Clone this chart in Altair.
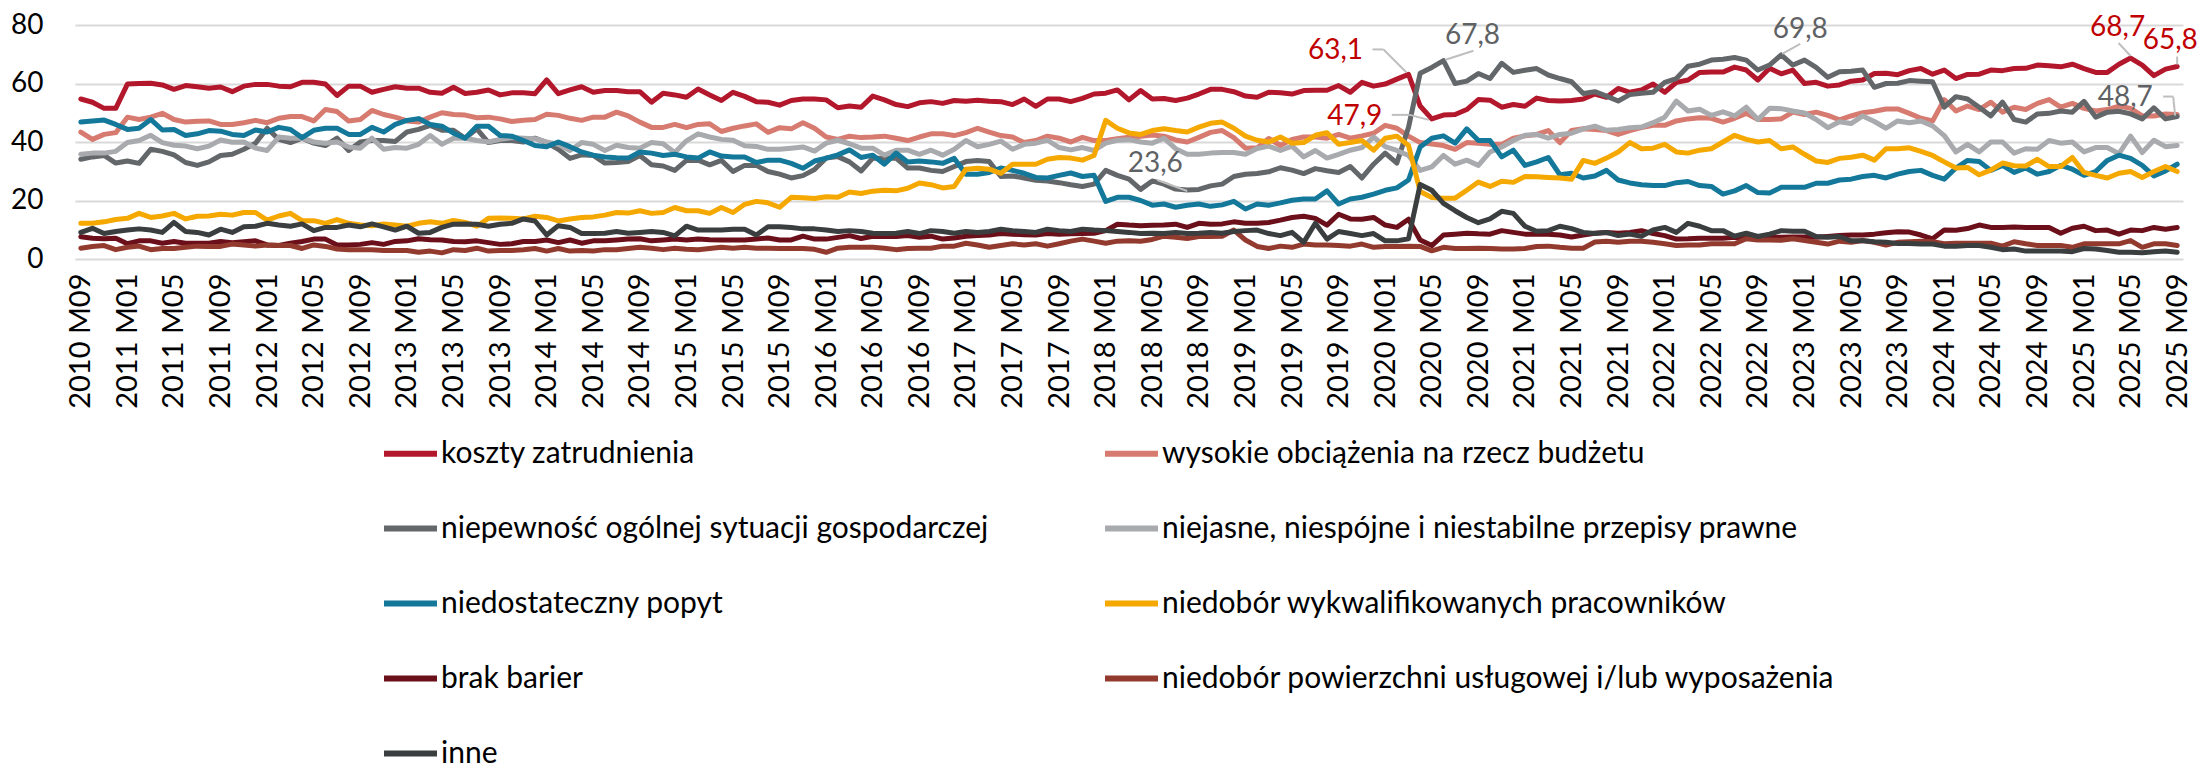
import json
import altair as alt
import pandas as pd

# ---------------- data ----------------
months = [f"{2010 + (i + 8) // 12} M{(i + 8) % 12 + 1:02d}" for i in range(181)]
tick_idx = list(range(0, 181, 4))
tick_labels = [months[i] for i in tick_idx]

series_names = [
    "koszty zatrudnienia",
    "wysokie obciążenia na rzecz budżetu",
    "niepewność ogólnej sytuacji gospodarczej",
    "niejasne, niespójne i niestabilne przepisy prawne",
    "niedostateczny popyt",
    "niedobór wykwalifikowanych pracowników",
    "brak barier",
    "niedobór powierzchni usługowej i/lub wyposażenia",
    "inne",
]

koszty = [
    54.7, 53.6, 51.5, 51.5, 59.8, 60.0, 60.1, 59.5, 58.0, 59.3, 58.9, 58.4, 58.8, 57.2, 59.1, 59.7, 59.7, 59.1, 58.9, 60.4, 60.4, 59.8, 55.9, 59.1, 59.1, 57.0, 58.0, 58.9, 58.4, 58.4,
    57.0, 56.7, 58.7, 56.6, 57.0, 57.8, 56.1, 56.8, 56.8, 56.5, 61.2, 56.5, 57.8, 58.9, 57.0, 57.6, 57.6, 57.2, 57.2, 53.6, 56.7, 56.1, 55.3, 58.1, 56.1, 54.2, 57.0, 55.6, 53.8, 53.6, 52.6,
    54.2, 54.7, 54.7, 54.4, 51.7, 52.3, 51.9, 55.7, 54.4, 52.8, 52.1, 53.4, 53.8, 53.2, 54.2, 53.9, 54.3, 53.9, 53.8, 52.8, 54.7, 52.2, 54.7, 54.7, 53.8, 54.9, 56.4, 56.7, 57.8, 54.4, 57.6,
    54.7, 54.9, 54.2, 55.0, 56.4, 58.0, 58.0, 57.2, 55.7, 55.3, 57.0, 56.8, 56.4, 57.6, 57.7, 57.7, 59.3, 57.0, 60.4, 59.1, 59.8, 61.5, 63.1, 52.3, 47.9, 49.2, 49.4, 51.1, 54.5, 54.3,
    51.9, 52.8, 52.2, 55.0, 54.2, 54.0, 54.2, 54.7, 56.4, 55.3, 58.3, 57.0, 57.8, 59.8, 57.0, 60.4, 61.2, 63.8, 63.9, 63.9, 65.6, 64.6, 61.2, 65.2, 63.3, 64.6, 60.0, 60.4, 59.1, 59.5, 60.8,
    61.2, 63.4, 63.5, 63.0, 64.4, 65.1, 63.2, 64.6, 61.7, 63.1, 63.2, 64.6, 64.4, 65.1, 65.2, 66.3, 66.1, 65.7, 66.6, 65.1, 63.8, 63.8, 66.6, 68.7, 66.3, 62.7, 64.9, 65.8,
]
wysokie = [
    43.4, 40.9, 42.6, 43.2, 48.5, 47.7, 48.5, 49.8, 47.7, 46.8, 47.1, 47.2, 46.0, 46.0, 46.6, 47.4, 46.6, 48.1, 48.7, 48.7, 47.2, 51.1, 50.4, 47.2, 47.7, 50.8, 49.4, 48.5, 47.2, 46.8,
    48.5, 50.0, 49.4, 49.2, 48.3, 48.5, 47.9, 47.0, 47.4, 47.7, 49.5, 49.1, 48.1, 47.4, 48.5, 48.5, 50.2, 48.9, 46.8, 45.0, 45.0, 46.0, 44.9, 46.0, 46.2, 43.6, 44.7, 45.5, 46.2, 43.3, 44.9,
    44.5, 46.6, 44.7, 41.7, 40.9, 42.0, 41.5, 41.7, 42.0, 41.3, 40.5, 41.7, 42.8, 42.8, 42.2, 43.2, 44.7, 43.4, 42.2, 41.7, 39.8, 40.5, 42.0, 41.3, 40.0, 41.6, 40.5, 40.5, 41.1, 41.6, 42.0,
    42.4, 42.0, 40.7, 40.0, 41.6, 43.3, 43.9, 41.5, 37.9, 38.0, 41.2, 38.8, 40.9, 41.7, 41.7, 41.3, 42.6, 41.3, 42.1, 43.0, 45.7, 44.7, 42.0, 39.8, 39.3, 38.8, 37.5, 39.8, 39.6, 39.2,
    39.2, 41.3, 42.1, 42.6, 43.9, 39.8, 43.9, 44.5, 44.3, 43.9, 42.6, 43.9, 44.9, 45.7, 45.7, 47.2, 47.9, 48.3, 48.1, 46.8, 48.1, 49.8, 47.7, 47.7, 47.9, 50.2, 49.4, 50.2, 49.1, 47.6, 48.9,
    50.0, 50.5, 51.3, 51.3, 49.8, 48.1, 47.2, 54.5, 50.6, 52.3, 51.1, 53.6, 50.2, 51.9, 51.1, 53.2, 54.5, 51.9, 53.2, 51.5, 50.6, 51.1, 52.3, 51.5, 48.9, 48.9, 49.6, 49.4,
]
niepewnosc = [
    34.1, 34.9, 35.4, 32.8, 33.5, 32.7, 37.5, 36.8, 35.6, 33.0, 32.0, 33.2, 35.4, 35.8, 37.5, 39.6, 44.7, 40.9, 39.8, 41.3, 39.6, 38.8, 41.3, 37.1, 40.0, 40.5, 40.5, 40.2, 43.4, 44.3,
    45.7, 44.0, 44.0, 41.3, 44.5, 39.8, 40.5, 40.5, 40.0, 41.3, 39.8, 37.5, 34.4, 35.6, 35.4, 32.8, 33.0, 33.3, 35.4, 32.2, 31.8, 30.3, 33.7, 33.8, 32.2, 33.7, 29.9, 32.0, 32.0, 29.9, 29.0,
    27.7, 28.5, 30.6, 34.5, 35.0, 33.2, 30.1, 34.5, 34.4, 34.5, 31.1, 31.1, 30.3, 29.9, 31.6, 33.3, 33.7, 33.3, 28.2, 28.4, 27.7, 26.9, 26.7, 26.1, 25.4, 24.8, 25.6, 30.3, 28.6, 27.3, 23.8,
    26.7, 25.6, 23.9, 23.6, 23.8, 25.0, 25.6, 28.2, 29.0, 29.2, 29.8, 31.2, 30.4, 29.2, 30.9, 30.2, 29.6, 31.6, 27.7, 32.4, 36.2, 32.8, 45.0, 63.5, 65.5, 67.8, 60.0, 60.8, 63.4, 61.7,
    66.9, 63.8, 64.5, 65.1, 62.9, 61.7, 60.6, 56.6, 57.2, 55.7, 54.0, 56.2, 56.7, 57.0, 60.4, 61.7, 65.9, 66.6, 68.0, 68.3, 68.9, 68.0, 64.6, 66.3, 69.8, 66.3, 68.0, 65.5, 62.1, 64.0, 64.2,
    64.6, 58.7, 60.0, 60.1, 61.0, 60.8, 60.6, 51.9, 55.5, 54.7, 51.9, 48.9, 53.6, 47.7, 46.8, 49.6, 49.8, 50.6, 50.2, 53.9, 48.5, 50.2, 50.5, 49.6, 47.9, 51.7, 47.9, 48.7,
]
niejasne = [
    35.8, 36.2, 36.2, 36.8, 39.8, 40.5, 42.3, 39.8, 38.9, 38.6, 37.7, 38.6, 40.7, 39.9, 40.0, 37.9, 37.1, 41.7, 41.3, 41.3, 40.0, 39.6, 40.0, 38.3, 37.9, 41.3, 37.5, 38.1, 37.9, 39.2,
    42.2, 39.2, 41.3, 41.3, 40.5, 40.0, 40.9, 41.5, 41.3, 41.1, 40.0, 39.2, 37.1, 39.8, 39.2, 37.1, 38.9, 38.1, 37.9, 39.8, 39.4, 36.4, 40.4, 42.8, 41.7, 40.9, 40.6, 38.7, 38.5, 37.5, 37.5,
    37.9, 38.3, 36.9, 39.6, 40.6, 39.4, 37.9, 37.9, 35.5, 37.2, 37.2, 35.8, 37.2, 35.5, 37.5, 40.5, 38.4, 39.2, 40.3, 37.5, 39.2, 39.6, 40.6, 38.1, 37.3, 38.1, 37.1, 39.6, 40.6, 40.8, 40.0,
    39.6, 41.3, 37.7, 35.8, 35.8, 36.2, 36.4, 36.4, 35.8, 37.8, 38.6, 37.1, 38.6, 34.9, 37.1, 34.5, 35.8, 37.2, 38.1, 41.7, 38.4, 37.1, 35.4, 30.3, 31.5, 35.4, 32.4, 33.8, 32.0, 36.6,
    38.3, 40.5, 42.3, 42.6, 41.3, 42.6, 43.0, 44.5, 45.4, 44.0, 44.3, 44.9, 45.1, 46.6, 48.5, 54.0, 50.6, 51.2, 49.1, 50.3, 48.9, 51.9, 47.7, 51.5, 51.4, 50.6, 49.9, 47.7, 44.9, 46.9, 46.3,
    48.9, 47.0, 44.7, 47.2, 46.6, 47.2, 45.5, 42.2, 36.6, 39.2, 36.6, 40.0, 40.0, 36.2, 37.7, 37.5, 40.5, 39.6, 40.0, 36.6, 38.1, 38.1, 36.0, 42.0, 36.4, 40.6, 38.4, 38.8,
]
popyt = [
    46.8, 47.2, 47.5, 46.0, 44.3, 44.7, 47.7, 44.1, 44.3, 42.2, 42.8, 43.9, 43.7, 42.6, 42.2, 44.1, 43.4, 45.0, 44.3, 41.5, 44.0, 44.7, 44.7, 42.6, 42.6, 45.0, 43.4, 46.0, 47.4, 48.0,
    46.0, 45.4, 43.0, 41.3, 45.4, 45.4, 42.2, 42.0, 40.5, 38.8, 38.4, 40.0, 38.4, 36.6, 35.5, 34.9, 34.6, 34.5, 36.6, 36.2, 35.4, 35.8, 34.9, 34.5, 36.6, 35.2, 34.9, 34.9, 33.0, 33.8, 33.8,
    32.7, 31.0, 33.5, 34.5, 35.6, 37.3, 34.7, 35.5, 32.4, 36.2, 33.2, 33.5, 33.2, 32.7, 34.4, 29.0, 29.0, 29.6, 31.1, 30.3, 29.3, 27.9, 27.7, 28.6, 29.4, 28.2, 28.6, 19.7, 21.1, 21.1, 20.0,
    18.4, 18.8, 17.7, 18.4, 18.8, 18.0, 18.5, 19.7, 17.1, 18.8, 18.4, 19.2, 20.1, 20.5, 20.5, 23.3, 18.8, 20.5, 21.1, 22.2, 23.5, 24.3, 27.0, 38.3, 41.3, 42.1, 39.6, 44.5, 40.5, 40.5,
    34.9, 37.2, 32.0, 33.2, 34.7, 28.8, 29.3, 27.7, 28.4, 30.3, 27.0, 26.0, 25.4, 25.1, 25.1, 26.1, 26.5, 25.1, 24.8, 22.2, 23.3, 25.1, 22.7, 22.6, 24.5, 24.5, 24.5, 25.9, 25.9, 27.0, 27.3,
    28.2, 28.6, 27.7, 29.0, 29.9, 30.3, 28.6, 27.3, 31.1, 33.7, 33.3, 30.3, 32.0, 29.6, 31.1, 29.0, 29.9, 32.0, 30.7, 28.6, 29.9, 33.7, 35.5, 34.4, 32.0, 28.4, 30.1, 32.4,
]
pracownicy = [
    12.2, 12.2, 12.7, 13.5, 13.9, 15.6, 14.2, 14.7, 15.6, 13.7, 14.6, 14.7, 15.3, 15.0, 15.9, 15.9, 13.3, 14.7, 15.6, 13.1, 13.1, 12.2, 13.5, 12.2, 11.6, 11.4, 12.0, 11.6, 11.2, 12.2,
    12.7, 12.2, 13.2, 12.5, 11.2, 13.9, 14.0, 13.9, 13.7, 14.6, 14.2, 13.0, 13.7, 14.2, 14.4, 15.0, 15.9, 15.7, 16.5, 15.6, 15.9, 17.6, 16.5, 16.5, 15.6, 17.6, 15.9, 18.7, 19.7, 19.2, 17.7,
    21.1, 20.9, 20.7, 21.3, 21.1, 22.9, 22.4, 23.2, 23.5, 23.3, 24.2, 26.0, 25.4, 24.3, 24.8, 30.7, 31.0, 30.7, 29.3, 32.4, 32.4, 32.4, 34.1, 34.7, 34.5, 33.8, 35.4, 47.4, 44.7, 43.1, 42.6,
    43.9, 44.5, 43.9, 43.4, 45.1, 46.4, 46.8, 44.7, 42.0, 40.6, 40.0, 41.7, 39.6, 39.8, 42.3, 43.2, 39.2, 39.8, 40.5, 37.2, 41.3, 42.0, 38.8, 23.1, 21.0, 20.8, 20.8, 23.5, 26.3, 24.8,
    26.6, 26.2, 28.2, 28.1, 27.9, 27.7, 27.3, 33.7, 32.7, 34.5, 36.6, 39.8, 37.7, 37.9, 39.2, 36.6, 36.2, 37.2, 37.7, 40.0, 42.3, 40.9, 40.0, 40.5, 37.7, 38.3, 35.8, 33.5, 33.0, 34.4, 34.8,
    35.5, 33.8, 37.7, 37.7, 38.0, 36.8, 35.4, 33.2, 31.1, 31.3, 28.8, 30.4, 32.8, 31.9, 31.8, 34.1, 31.6, 31.6, 34.7, 29.6, 28.6, 27.7, 29.3, 29.9, 27.9, 29.9, 31.6, 29.9,
]
brak = [
    7.6, 7.1, 6.9, 7.1, 5.2, 6.2, 6.2, 5.4, 6.0, 5.4, 5.4, 5.4, 6.0, 5.6, 5.9, 6.2, 4.8, 4.6, 5.4, 6.0, 6.8, 6.8, 4.8, 4.8, 5.0, 5.6, 5.0, 6.0, 6.2, 6.9,
    6.6, 6.5, 6.0, 5.9, 6.2, 5.6, 5.0, 5.2, 6.0, 6.0, 6.5, 5.6, 6.5, 5.4, 6.2, 6.2, 6.5, 6.8, 6.9, 6.2, 6.5, 6.8, 6.5, 6.8, 6.6, 6.5, 6.5, 6.5, 6.8, 7.2, 6.5,
    6.5, 7.8, 6.8, 6.8, 7.4, 8.0, 7.0, 7.8, 7.7, 7.7, 8.0, 7.4, 7.8, 6.8, 7.2, 7.8, 8.0, 8.2, 8.7, 8.5, 8.3, 8.2, 8.7, 8.5, 8.6, 8.7, 8.8, 9.7, 11.9, 11.6, 11.4,
    11.5, 11.6, 11.9, 10.8, 12.2, 11.9, 12.0, 12.7, 12.2, 12.2, 12.5, 13.3, 14.2, 14.6, 13.9, 11.6, 15.3, 13.7, 13.6, 14.2, 11.6, 10.8, 13.6, 6.5, 4.6, 8.2, 8.5, 8.8, 8.6, 8.5,
    9.7, 9.1, 8.5, 8.5, 8.5, 8.2, 7.5, 8.2, 8.8, 9.1, 8.8, 9.1, 9.7, 8.7, 8.0, 6.8, 6.9, 7.1, 7.1, 7.1, 7.4, 7.1, 7.1, 7.4, 7.4, 7.5, 7.5, 7.4, 7.7, 8.0, 8.2,
    8.2, 8.5, 9.0, 9.3, 9.2, 8.2, 6.9, 9.9, 9.8, 10.4, 11.6, 10.8, 10.8, 10.9, 10.8, 10.8, 10.8, 8.8, 10.5, 11.2, 9.7, 9.9, 8.5, 9.9, 9.7, 10.8, 10.2, 10.8,
]
powierzchnia = [
    3.7, 4.3, 4.6, 3.2, 4.0, 4.4, 3.2, 3.6, 3.6, 4.0, 4.4, 4.3, 4.3, 5.1, 4.8, 4.4, 4.8, 4.6, 4.6, 3.6, 4.8, 4.3, 3.4, 3.2, 3.2, 3.2, 2.9, 2.9, 2.9, 2.3,
    2.7, 2.1, 3.2, 2.9, 3.7, 2.7, 2.9, 2.9, 3.2, 3.6, 2.7, 3.6, 2.7, 2.9, 2.7, 3.2, 3.2, 3.6, 4.0, 3.7, 3.2, 3.7, 3.3, 3.2, 3.6, 4.0, 3.7, 4.0, 3.7, 3.7, 3.6,
    3.6, 3.6, 3.3, 2.3, 3.7, 4.0, 4.0, 4.0, 3.7, 3.2, 3.6, 3.7, 3.7, 4.4, 4.4, 5.4, 4.8, 4.0, 4.6, 5.2, 4.8, 5.2, 4.4, 5.2, 6.1, 6.8, 6.1, 5.4, 6.1, 6.2, 6.1,
    6.7, 7.8, 7.4, 7.0, 7.7, 7.7, 7.8, 9.9, 6.5, 4.3, 3.6, 4.4, 4.0, 5.1, 4.8, 4.8, 4.6, 4.4, 5.1, 4.0, 4.3, 4.3, 4.4, 4.3, 2.8, 4.0, 3.6, 3.6, 3.7, 3.6,
    3.4, 3.4, 3.6, 4.3, 4.4, 4.0, 3.7, 3.7, 5.8, 6.1, 5.7, 6.1, 6.1, 5.7, 5.2, 4.6, 4.8, 4.8, 5.2, 5.2, 5.2, 6.9, 6.5, 6.5, 6.4, 6.9, 6.3, 5.7, 5.1, 6.1, 5.7,
    6.3, 5.7, 4.8, 5.7, 5.9, 6.1, 5.9, 5.2, 5.4, 5.4, 5.4, 5.4, 4.4, 5.9, 5.2, 4.6, 4.6, 4.6, 4.0, 5.2, 5.2, 5.2, 5.2, 6.3, 4.0, 5.2, 5.2, 4.6,
]
inne = [
    9.1, 10.5, 8.7, 9.4, 9.9, 10.3, 9.9, 9.1, 12.5, 9.4, 9.1, 8.2, 10.2, 9.1, 11.0, 11.2, 12.2, 11.6, 11.2, 12.0, 9.7, 10.8, 10.8, 11.6, 11.0, 12.0, 11.0, 9.9, 11.2, 8.8,
    9.1, 10.8, 11.9, 12.0, 11.9, 11.2, 11.9, 12.2, 13.7, 13.0, 8.2, 11.4, 10.8, 8.7, 8.7, 8.8, 9.4, 8.8, 9.1, 9.4, 9.1, 7.9, 11.2, 9.9, 9.9, 9.9, 10.2, 10.2, 8.2, 11.0, 11.0,
    10.8, 10.3, 10.3, 9.9, 9.4, 9.7, 9.4, 8.8, 8.7, 8.8, 9.4, 8.7, 9.7, 9.4, 8.8, 9.4, 9.1, 9.4, 10.2, 9.7, 9.4, 9.1, 10.2, 9.7, 9.4, 10.2, 9.9, 9.7, 9.4, 9.1, 8.7,
    8.8, 8.7, 9.1, 8.7, 8.8, 9.1, 8.8, 9.4, 9.7, 9.9, 8.7, 8.0, 9.1, 5.7, 12.2, 6.8, 9.4, 8.7, 8.0, 8.7, 6.2, 6.2, 6.9, 25.5, 23.5, 19.0, 16.5, 14.2, 12.4, 13.7,
    16.3, 15.6, 11.2, 9.5, 9.7, 11.2, 10.4, 9.1, 8.7, 9.1, 8.0, 8.5, 7.8, 9.9, 10.8, 9.1, 12.2, 11.2, 9.7, 9.7, 7.8, 8.8, 7.7, 8.5, 9.7, 9.5, 9.5, 7.7, 7.4, 7.7, 6.2,
    6.2, 5.9, 5.7, 5.3, 5.3, 5.1, 5.1, 4.4, 4.4, 4.6, 4.6, 4.0, 3.2, 3.4, 2.7, 2.7, 2.7, 2.7, 2.5, 3.6, 3.4, 2.9, 2.3, 2.3, 2.1, 2.5, 2.7, 2.3,
]

series_values = [koszty, wysokie, niepewnosc, niejasne, popyt, pracownicy, brak, powierzchnia, inne]

# annotated points: (series index, month index)
annotated = [(0, 114), (2, 117), (0, 116), (2, 95), (2, 146), (0, 176), (0, 180), (2, 180)]

# ---------------- styles ----------------
colors = ["#B3172C", "#D77B70", "#63676A", "#A8AAAD", "#13789A", "#F5A800", "#6B0F1A", "#933A2F", "#3A3E3F"]
ann_colors = {0: "#C00000", 2: "#5F6264"}
FONT = "Lato"

# text offset (dx, dy) and leader polyline offsets in pixels, relative to the annotated point
ann_style = [
    ((-73, -23), [(-36, -25), (-25, -25), (-2, -2)]),
    ((29, -25), [(30, -10), (2, -1)]),
    ((-77, -2), [(-40, -4), (-22, -4), (-3, 1)]),
    ((-32, -26), [(-30, -10), (0, 1)]),
    ((19, -25), [(19, -11), (1, -1)]),
    ((-13, -30), [(-12, -15), (0, -2)]),
    ((-7, -26), [(0, -10), (0, -2)]),
    ((-52, -19), [(-14, -20), (-4, -20), (-2, -1)]),
]

rows = []
for name, vals in zip(series_names, series_values):
    for i, v in enumerate(vals):
        rows.append({"idx": i, "month": months[i], "series": name, "value": v})
df = pd.DataFrame(rows)

W, H = 2108, 234
xscale = alt.Scale(domain=[-0.5, 180.5], nice=False, zero=False)
yscale = alt.Scale(domain=[0, 80], nice=False)

label_expr = json.dumps(tick_labels, ensure_ascii=False) + "[round(datum.value / 4)]"

lines = alt.Chart(df).mark_line(strokeWidth=5, strokeJoin="round", strokeCap="round").encode(
    x=alt.X("idx:Q", scale=xscale, title=None,
            axis=alt.Axis(values=tick_idx, labelExpr=label_expr, labelAngle=-90, grid=False,
                          ticks=False, domain=False, labelFont=FONT, labelFontSize=29,
                          labelColor="#000000", labelPadding=14, labelOverlap=False,
                          labelFlush=False, labelBound=False)),
    y=alt.Y("value:Q", scale=yscale, title=None,
            axis=alt.Axis(values=list(range(0, 81, 10)), grid=True, gridColor="#D9D9D9",
                          gridWidth=2, ticks=False, domain=False, labelFont=FONT,
                          labelFontSize=28, labelColor="#000000", labelPadding=32)),
    color=alt.Color("series:N", scale=alt.Scale(domain=series_names, range=colors),
                    sort=series_names,
                    legend=alt.Legend(title=None, orient="none", legendX=306, legendY=399,
                                      direction="horizontal", columns=2, columnPadding=104,
                                      rowPadding=30, symbolType="stroke", symbolSize=2809,
                                      symbolStrokeWidth=6, labelFont=FONT,
                                      labelFontSize=30, labelColor="#000000",
                                      labelOffset=1, labelLimit=1200)),
    order=alt.Order("idx:Q"),
)

layers = [lines]
for (si, mi), (toff, leader) in zip(annotated, ann_style):
    v = series_values[si][mi]
    adf = pd.DataFrame([{"idx": mi, "value": v, "text": f"{v:.1f}".replace(".", ",")}])
    base = alt.Chart(adf)
    for a, b in zip(leader[:-1], leader[1:]):
        layers.append(base.mark_rule(color="#BFBFBF", strokeWidth=2,
                                     xOffset=a[0], yOffset=a[1], x2Offset=b[0], y2Offset=b[1]).encode(
            x=alt.X("idx:Q", scale=xscale), y=alt.Y("value:Q", scale=yscale),
            x2="idx:Q", y2="value:Q"))
    layers.append(base.mark_text(font=FONT, fontSize=28, align="center", baseline="middle",
                                 color=ann_colors[si], dx=toff[0], dy=toff[1]).encode(
        x=alt.X("idx:Q", scale=xscale), y=alt.Y("value:Q", scale=yscale), text="text:N"))

chart = alt.layer(*layers).properties(
    width=W, height=H,
    autosize=alt.AutoSizeParams(type="none"),
    padding={"left": 67, "top": 17, "right": 15, "bottom": 520},
    background="#FFFFFF",
).configure_view(stroke=None)

chart.save("out.html", embed_options={"renderer": "svg", "actions": False})
